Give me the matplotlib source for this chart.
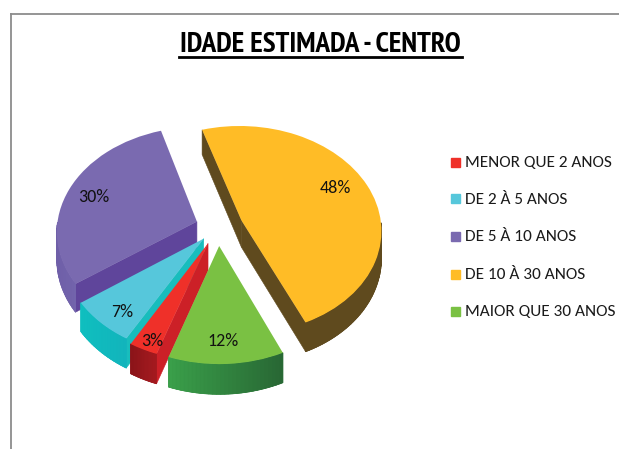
import numpy as np
import matplotlib
matplotlib.use('Agg')
import matplotlib.pyplot as plt
from matplotlib.colors import to_rgb
from matplotlib.lines import Line2D
from matplotlib.patches import Rectangle
from matplotlib.transforms import Transform

title = 'IDADE ESTIMADA - CENTRO'
categories = ['MENOR QUE 2 ANOS', 'DE 2 À 5 ANOS', 'DE 5 À 10 ANOS', 'DE 10 À 30 ANOS', 'MAIOR QUE 30 ANOS']
values = [3, 7, 30, 48, 12]

top_colors = ['#EF3029', '#56C7DB', '#7A6AB0', '#FFBC26', '#7AC143']
wall_left = ['#8A1419', '#0FBFBF', '#6F5FA8', '#5F4A1E', '#3AA04A']
wall_right = ['#A51A1F', '#12B4BC', '#7264AC', '#5F4A1E', '#286734']
cut_colors = ['#CC2027', '#18BDBD', '#5F459B', '#5F4A1E', '#286734']

W, H = 619, 449
cx, cy = 218, 227
scale_x, scale_y = 140, 104
persp = 0.089
depth = 27

TEXT_FONT = ['Carlito', 'Lato']
TITLE_FONT = ['PT Sans Narrow', 'Roboto Condensed', 'Liberation Sans']


class Tilt(Transform):
    # tilts the flat pie back, far side smaller
    input_dims = 2
    output_dims = 2

    def transform_non_affine(self, values):
        x, y = values[:, 0], values[:, 1]
        f = 1 / (1 + persp * y)
        return np.column_stack([cx + scale_x * x * f, cy - scale_y * y * f])


tilt = Tilt()

fig = plt.figure(figsize=(W / 100, H / 100), dpi=100)
ax = fig.add_axes([0, 0, 1, 1])

wedges, _ = ax.pie(values, colors=top_colors, startangle=-109, counterclock=False,
                   explode=[0.17, 0.15, 0.16, 0.18, 0.18], radius=1, wedgeprops={'linewidth': 0})
for w in wedges:
    w.set_transform(tilt + ax.transData)
ax.set_aspect('auto')
ax.set_xlim(0, W)
ax.set_ylim(H, 0)
ax.axis('off')


def rim(w, angle):
    a = np.radians(angle)
    return w.center[0] + np.cos(a), w.center[1] + np.sin(a)


def to_px(x, y):
    p = tilt.transform_non_affine(np.array([[x, y]]))[0]
    return p[0], p[1], depth / (1 + persp * y)


def draw_side(w, left, right, cut, z):
    # flat faces along the two cuts
    ax0, ay0, ad0 = to_px(*w.center)
    for angle, normal in ((w.theta1, w.theta1 - 90), (w.theta2, w.theta2 + 90)):
        if np.sin(np.radians(normal)) < 0:
            x, y, d = to_px(*rim(w, angle))
            ax.fill([ax0, x, x, ax0], [ay0, y, y + d, ay0 + ad0], color=cut, lw=0.4, zorder=z)
    # curved outer wall, shaded left to right
    angles = np.append(np.arange(w.theta1, w.theta2, 1.5), w.theta2)
    lit = [a for a in angles if np.sin(np.radians(a)) <= 0.001]
    if len(lit) < 2:
        return
    pts = [to_px(*rim(w, a)) for a in lit]
    lo = min(p[0] for p in pts)
    hi = max(p[0] for p in pts)
    # one solid piece under the strips so their edges do not show white
    mid = (np.array(to_rgb(left)) + np.array(to_rgb(right))) / 2
    ax.fill([p[0] for p in pts] + [p[0] for p in pts[::-1]],
            [p[1] for p in pts] + [p[1] + p[2] for p in pts[::-1]], color=mid, lw=0.4, zorder=z)
    for (x0, y0, d0), (x1, y1, d1) in zip(pts[:-1], pts[1:]):
        t = ((x0 + x1) / 2 - lo) / (hi - lo)
        c = (1 - t) * np.array(to_rgb(left)) + t * np.array(to_rgb(right))
        ax.fill([x0, x1, x1, x0], [y0, y1, y1 + d1, y0 + d0], color=c, lw=0.6, zorder=z)


# back to front: purple, orange, cyan, red, green
for z, i in enumerate([2, 3, 1, 0, 4]):
    draw_side(wedges[i], wall_left[i], wall_right[i], cut_colors[i], 2 + z * 2)
    wedges[i].set_zorder(3 + z * 2)

# frame
fig.add_artist(Line2D([10.5 / W, 10.5 / W], [0, 1 - 14 / H], color='#8C8C8C', lw=1.3))
fig.add_artist(Line2D([10.5 / W, 1], [1 - 14 / H, 1 - 14 / H], color='#8C8C8C', lw=1.3))

# title with underline
fig.text(320.5 / W, 1 - 45.5 / H, title, ha='center', va='center', fontsize=21,
         fontweight='bold', family=TITLE_FONT, color='black')
fig.add_artist(Line2D([179 / W, 462 / W], [1 - 57 / H, 1 - 57 / H], color='black', lw=2))

# percent labels
label_pos = [(152, 341), (122, 312), (94, 197), (335, 188), (223, 341)]
for v, (px, py) in zip(values, label_pos):
    fig.text(px / W, 1 - py / H, f'{v}%', ha='center', va='center', fontsize=13,
             family=TEXT_FONT, color='#111111', zorder=20)

# legend
legend_y = [162, 199, 236, 274, 311]
for name, col, ly in zip(categories, top_colors, legend_y):
    fig.add_artist(Rectangle((451 / W, 1 - (ly + 4.5) / H), 9 / W, 9 / H, color=col,
                             transform=fig.transFigure))
    fig.text(465 / W, 1 - (ly + 0.8) / H, name, ha='left', va='center', fontsize=12.4,
             family=TEXT_FONT, color='#1A1A1A')

fig.savefig('out.png', dpi=100)
